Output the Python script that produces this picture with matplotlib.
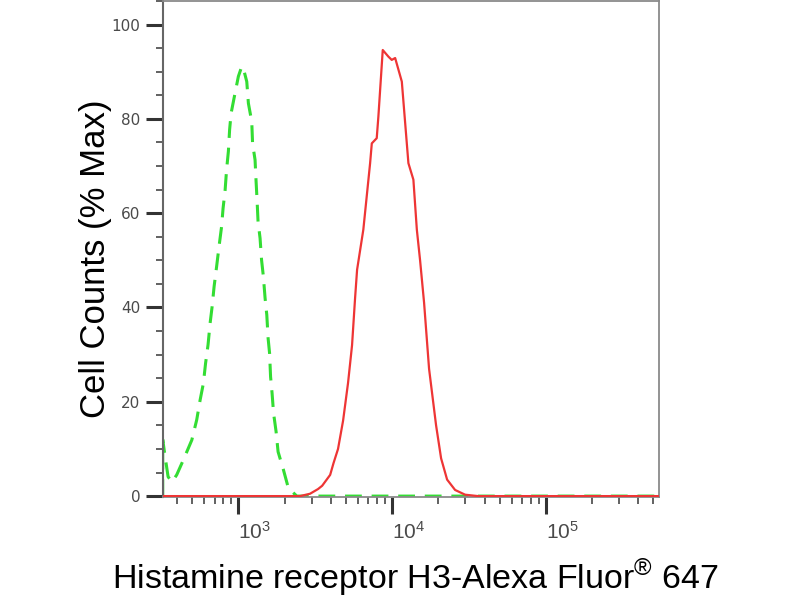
import matplotlib
matplotlib.use("Agg")
import matplotlib.pyplot as plt
from matplotlib.ticker import LogLocator, MultipleLocator, LogFormatterSciNotation

plt.rcParams["mathtext.fontset"] = "custom"
plt.rcParams["mathtext.rm"] = "Liberation Sans"

# isotype control (green dashed)
ctrl_x = [322, 322, 335, 349, 370, 397, 439, 498, 536, 564, 592, 612, 635, 655, 675,
          695, 722, 749, 778, 795, 820, 838, 861, 877, 897, 952, 1000, 1052, 1078,
          1134, 1162, 1222, 1237, 1284, 1304, 1323, 1343, 1384, 1415, 1454, 1492,
          1531, 1561, 1596, 1620, 1657, 1694, 1759, 1813, 1963, 2115, 2399, 548000]
ctrl_y = [0, 12, 8, 4.1, 3, 4.5, 7.7, 11.9, 16.2, 20.4, 23.9, 28.2, 32.1, 36.7, 40.2,
          44.4, 48.7, 53, 57.2, 61, 64.9, 69.2, 73.1, 77.7, 81.2, 85.5, 89, 91.1, 90.7,
          87.9, 83.3, 79.4, 74.8, 71.3, 66.7, 62.8, 58.2, 54.7, 50.1, 46.6, 42,
          38.4, 33.5, 30.3, 25.3, 21.8, 17.6, 13.7, 9.4, 5.6, 1.7, 0, 0]

# Histamine receptor H3 stained sample (red)
sample_x = [322, 2518, 2926, 3300, 3510, 3955, 4160, 4450, 4800, 5170, 5490, 5745, 5920,
            6500, 7195, 7380, 7945, 8145, 8695, 9460, 9950, 10470, 11570, 12770, 13760,
            14490, 15210, 16150, 17400, 19330, 20840, 22800, 25700, 29850, 36300, 548000]
sample_y = [0, 0, 0.5, 1.5, 2.2, 4.5, 7, 10, 16, 24, 32, 42, 48,
            56.5, 70.6, 74.8, 75.9, 80.5, 94.6, 93.2, 92.5, 92.9, 87.9, 70.6, 67.1,
            56.5, 50, 41, 27, 15, 8, 3.5, 1.3, 0.3, 0, 0]

y_ticks = [0, 20, 40, 60, 80, 100]

fig = plt.figure(figsize=(8, 6), dpi=100)
ax = fig.add_axes([0.2034, 0.1712, 0.6208, 0.8272])

ax.plot(ctrl_x, ctrl_y, color="#33dd33", linewidth=2.2, linestyle=(0, (5.5, 3.2)), zorder=2)
ax.plot(sample_x, sample_y, color="#ee3535", linewidth=1.6, zorder=3)

ax.set_xscale("log")
ax.set_xlim(322, 548000)
ax.set_ylim(-0.25, 105)

ax.xaxis.set_major_locator(LogLocator(base=10, numticks=10))
ax.xaxis.set_minor_locator(LogLocator(base=10, subs=range(2, 10), numticks=20))
ax.xaxis.set_major_formatter(LogFormatterSciNotation())
ax.set_yticks(y_ticks)
ax.yaxis.set_minor_locator(MultipleLocator(5))

ax.tick_params(axis="both", which="major", direction="out", length=12, width=2.2,
               color="#333333", labelcolor="#4a4a4a", labelsize=11)
ax.tick_params(axis="both", which="minor", direction="out", length=5, width=1.3,
               color="#555555")
ax.tick_params(axis="x", which="major", pad=5, labelsize=15)
ax.tick_params(axis="y", which="major", pad=4)
for lbl in ax.get_xticklabels():
    lbl.set_horizontalalignment("left")
    lbl.set_family("Liberation Sans")

for side in ["top", "right", "bottom"]:
    ax.spines[side].set_color("#8a8a8a")
    ax.spines[side].set_linewidth(1.3)
ax.spines["left"].set_color("#666666")
ax.spines["left"].set_linewidth(1.5)

fig.text(0.119, 0.568, "Cell Counts (% Max)", rotation=90, fontsize=25,
         family="Liberation Sans", ha="center", va="center")
fig.text(0.519, 0.018, "Histamine receptor H3-Alexa Fluor$^{\\circledR}$ 647",
         fontsize=24.5, family="Liberation Sans", ha="center", va="baseline")

fig.savefig("out.png", dpi=100)
